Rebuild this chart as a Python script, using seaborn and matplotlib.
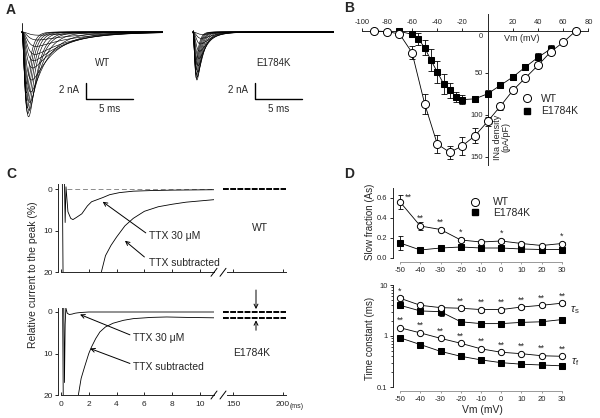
import numpy as np
import seaborn as sns
import matplotlib
matplotlib.use('Agg')
import matplotlib.pyplot as plt
from matplotlib.lines import Line2D

W, H, DPI = 600, 418, 100

# ---------------- panel A : current families (peak nA, activation / inactivation tau in ms)
wt_amp = [0.4, 1.0, 1.8, 2.8, 3.6, 4.5, 6.0, 7.5, 8.8, 9.8, 10.6, 10.2, 9.5, 8.6, 7.6, 6.5]
wt_tm = [0.55, 0.5, 0.45, 0.42, 0.38, 0.35, 0.34, 0.33, 0.33, 0.33, 0.33, 0.3, 0.28, 0.26, 0.24, 0.22]
wt_th = [5.0, 4.6, 4.2, 3.8, 3.4, 3.0, 2.4, 1.8, 1.3, 1.0, 0.85, 0.72, 0.63, 0.56, 0.5, 0.45]
mut_amp = [0.3, 0.8, 1.5, 2.4, 3.3, 4.2, 5.0, 5.6, 6.0, 5.8, 5.3, 4.7, 4.1, 3.5]
mut_tm = [0.4, 0.36, 0.33, 0.3, 0.28, 0.26, 0.25, 0.24, 0.23, 0.21, 0.2, 0.19, 0.18, 0.17]
mut_th = [1.6, 1.4, 1.2, 1.0, 0.85, 0.7, 0.6, 0.5, 0.42, 0.38, 0.35, 0.32, 0.3, 0.28]
artifact = {'WT': 1.1, 'E1784K': 0.3}

# ---------------- panel B : I-V relation
iv_vm_wt = [-90, -80, -70, -60, -50, -40, -30, -20, -10, 0, 10, 20, 30, 40, 50, 60, 70]
iv_wt = [0, 0.8, 3.5, 26, 87, 135, 145, 137, 125, 108, 90, 71, 56, 41, 25, 13.5, 0]
iv_wt_err = [0, 0, 1, 8, 12, 11, 7.6, 11, 9, 5, 4, 3, 3, 3, 3, 2, 2]
iv_vm_mut = [-70, -60, -55, -50, -45, -40, -35, -30, -25, -20, -10, 0, 10, 20, 30, 40, 50]
iv_mut = [0.5, 4, 9.6, 20, 35, 49, 63, 71, 78.5, 82, 81, 75, 65, 55, 43, 31.5, 21.5]
iv_mut_err = [1, 3, 6.6, 9, 13, 13, 12, 9, 6, 5, 3.4, 4.4, 3, 4, 4, 5, 4.6]

# ---------------- panel C : normalised traces (time ms, % of peak)
c_wt_ttx_t = [0.25, 0.3, 0.36, 0.5, 0.7, 0.86, 1.1, 1.5, 1.9, 2.2, 2.6, 3.0, 3.5, 4.2, 5.2, 6.5, 8.0, 9.5, 11.0]
c_wt_ttx = [-1.4, 8, -0.6, 5.4, 7.0, 7.3, 6.8, 5.9, 4.0, 3.0, 2.5, 2.0, 1.3, 0.8, 0.45, 0.3, 0.2, 0.15, 0.1]
c_wt_sub_t = [0.1, 0.17, 2.6, 2.9, 3.2, 3.6, 4.0, 4.6, 5.2, 6.0, 7.0, 8.0, 9.0, 10.0, 11.0]
c_wt_sub = [-1.4, 30, 30, 20, 16, 13.5, 11.5, 8.8, 7.0, 5.3, 4.2, 3.6, 3.1, 2.8, 2.5]
c_mut_ttx_t = [0.2, 0.25, 0.3, 0.35, 0.45, 0.6, 0.8, 1.0, 1.2, 1.5, 2.0, 3.0, 5.0, 8.0, 11.0]
c_mut_ttx = [-1, 17, 3, -1, 0.3, 0.6, 0.5, 0.3, 0.2, 0.1, 0, 0, 0, 0, 0]
c_mut_sub_t = [0.12, 0.18, 1.1, 1.25, 1.45, 1.7, 2.0, 2.2, 2.5, 2.8, 3.2, 3.75, 4.5, 5.2, 6.5, 7.6, 9.0, 11.0]
c_mut_sub = [-1, 30, 30, 20, 16, 13.2, 10, 8.4, 6.4, 4.8, 3.6, 2.7, 2.0, 1.6, 1.3, 1.2, 1.3, 1.4]
c_late_t = [140, 203]
c_wt_late = [0, 0]
c_mut_late_ttx = [0, 0]
c_mut_late_sub = [1.4, 1.4]

# ---------------- panel D : kinetics
vm_d = [-50, -40, -30, -20, -10, 0, 10, 20, 30]
sf_wt = [0.56, 0.32, 0.285, 0.18, 0.16, 0.17, 0.145, 0.125, 0.145]
sf_wt_err = [0.07, 0.04, 0.02, 0.02, 0.015, 0.02, 0.015, 0.01, 0.015]
sf_mut = [0.15, 0.08, 0.10, 0.11, 0.10, 0.10, 0.09, 0.085, 0.085]
sf_mut_err = [0.07, 0.015, 0.01, 0.01, 0.01, 0.01, 0.01, 0.01, 0.01]
ts_wt = [5.5, 4.0, 3.6, 3.5, 3.3, 3.3, 3.7, 4.0, 4.4]
ts_wt_err = [0.6, 0.3, 0.3, 0.3, 0.3, 0.3, 0.3, 0.3, 0.4]
ts_mut = [4.0, 3.1, 3.0, 1.9, 1.75, 1.75, 1.85, 1.9, 2.1]
ts_mut_err = [0.5, 0.3, 0.5, 0.2, 0.15, 0.15, 0.15, 0.15, 0.2]
tf_wt = [1.45, 1.15, 0.9, 0.72, 0.56, 0.48, 0.45, 0.41, 0.40]
tf_mut = [0.92, 0.68, 0.5, 0.4, 0.34, 0.3, 0.28, 0.27, 0.26]
sf_stars = ['**', '**', '**', '*', '', '*', '', '', '*']
ts_stars = ['*', '', '', '**', '**', '**', '**', '**', '**']
tf_stars = ['**'] * 9

sns.set_style('ticks')
plt.rcParams['font.family'] = ['Liberation Sans', 'DejaVu Sans']
plt.rcParams['mathtext.fontset'] = 'custom'
plt.rcParams['mathtext.rm'] = 'Liberation Sans'
plt.rcParams['mathtext.it'] = 'Liberation Sans:italic'
plt.rcParams['axes.unicode_minus'] = False
plt.rcParams['axes.linewidth'] = 0.7
plt.rcParams['xtick.major.width'] = 0.7
plt.rcParams['ytick.major.width'] = 0.7

fig = plt.figure(figsize=(W / DPI, H / DPI), dpi=DPI)


def add_ax(l, t, w, h):
    a = fig.add_axes([l / W, 1 - (t + h) / H, w / W, h / H])
    a.patch.set_visible(False)
    return a


def fig_line(x1, y1, x2, y2):
    fig.add_artist(Line2D([x1 / W, x2 / W], [1 - y1 / H, 1 - y2 / H],
                          transform=fig.transFigure, color='k', lw=0.7))


for letter, (x, y) in zip('ABCD', [(10.5, 10.5), (349, 8.5), (11, 173.5), (349, 173.5)]):
    fig.text(x / W, 1 - y / H, letter, fontsize=10, weight='bold', ha='center', va='center')

# ---------------- A
t_a = np.linspace(0, 15, 900)


def na_trace(amp, tm, th):
    y = (1 - np.exp(-t_a / tm)) ** 3 * np.exp(-t_a / th)
    return -amp * y / y.max()


for left, amps, tms, ths, name, bar_x in [(20, wt_amp, wt_tm, wt_th, 'WT', 6.8),
                                          (191, mut_amp, mut_tm, mut_th, 'E1784K', 6.6)]:
    ax = add_ax(left, 20, 143, 104)
    for amp, tm, th in zip(amps, tms, ths):
        ax.plot(t_a, na_trace(amp, tm, th), color='k', lw=0.45)
    ax.plot([0, 0], [0, artifact[name]], color='k', lw=0.6)
    ax.plot([bar_x, bar_x, bar_x + 5], [-6.4, -8.4, -8.4], color='k', lw=1.0)
    ax.text(bar_x - 0.7, -7.25, '2 nA', ha='right', va='center', fontsize=7)
    ax.text(bar_x + 2.5, -9.6, '5 ms', ha='center', va='center', fontsize=7)
    ax.text(8.6, -3.9, name, ha='center', va='center', fontsize=7)
    ax.set_xlim(-0.2, 15)
    ax.set_ylim(-11.5, 1.5)
    ax.axis('off')

# ---------------- B
axb = add_ax(359.2, 14.2, 231.7, 150.8)
axb.errorbar(iv_vm_mut, iv_mut, yerr=iv_mut_err, fmt='none', ecolor='k', elinewidth=0.6, capsize=2, capthick=0.6, zorder=2)
axb.errorbar(iv_vm_wt, iv_wt, yerr=iv_wt_err, fmt='none', ecolor='k', elinewidth=0.6, capsize=2, capthick=0.6, zorder=2)
sns.lineplot(x=iv_vm_mut, y=iv_mut, ax=axb, color='k', lw=0.6, marker='s', ms=5, mfc='k', mec='k', zorder=3)
sns.lineplot(x=iv_vm_wt, y=iv_wt, ax=axb, color='k', lw=0.6, marker='o', ms=5.8, mfc='white', mec='k', mew=0.7, zorder=4)
axb.set_xlim(-102, 82)
axb.set_ylim(160, -20)
axb.spines['right'].set_visible(False)
axb.spines['bottom'].set_visible(False)
axb.spines['top'].set_position(('data', 0))
axb.spines['top'].set_bounds(-100, 80)
axb.spines['left'].set_position(('data', 0))
axb.xaxis.set_ticks_position('top')
axb.set_xticks([-100, -80, -60, -40, -20, 20, 40, 60, 80])
axb.set_yticks([50, 100, 150])
axb.tick_params(axis='both', labelsize=5.4, length=2, pad=1.5)
axb.text(-4, 3, '0', ha='right', va='top', fontsize=5.4)
axb.text(27, 3.5, 'Vm (mV)', ha='center', va='top', fontsize=6.5)
axb.text(11.4, 126.5, 'INa density\n(pA/pF)', rotation=90, ha='center', va='center', fontsize=6.5, linespacing=0.95)
h_wt = Line2D([], [], ls='none', marker='o', ms=5.8, mfc='white', mec='k', mew=0.7)
h_mut = Line2D([], [], ls='none', marker='s', ms=5, mfc='k', mec='k')
axb.legend([h_wt, h_mut], ['WT', 'E1784K'], loc='center left', bbox_to_anchor=(0.705, 0.396),
           frameon=False, handlelength=0.8, handletextpad=1.0, labelspacing=0.22, borderpad=0,
           borderaxespad=0, fontsize=7.5)
axb.set_xlabel('')
axb.set_ylabel('')

# ---------------- C
def c_axes(top, h, ytop, bottom_labels):
    axl = add_ax(58.2, top, 155.7, h)
    axr = add_ax(222, top, 64, h)
    for a in (axl, axr):
        a.set_ylim(20, ytop)
        a.spines['top'].set_visible(False)
        a.spines['right'].set_visible(False)
        a.tick_params(axis='x', direction='in', length=2.5, labelsize=6, pad=4, labelbottom=bottom_labels)
        a.tick_params(axis='y', direction='out', length=2.5, labelsize=6, pad=1.5)
    axl.set_xlim(-0.2, 11.0)
    axr.set_xlim(139, 203)
    axr.spines['left'].set_visible(False)
    axr.tick_params(axis='y', left=False, labelleft=False)
    axl.spines['bottom'].set_bounds(0, 11)
    axr.spines['bottom'].set_bounds(144, 203)
    axl.set_xticks([0, 2, 4, 6, 8, 10])
    axr.set_xticks([150, 200])
    axl.set_yticks([0, 10, 20])
    yb = top + h
    fig_line(211, yb + 4, 217, yb - 4)
    fig_line(220, yb + 4, 226, yb - 4)
    return axl, axr


arrow = dict(arrowstyle='->', color='k', lw=0.7, shrinkA=0, shrinkB=0, mutation_scale=7)
late_style = dict(color='k', lw=1.4, ls=(0, (3, 0.7)))

c1l, c1r = c_axes(183.5, 88.8, -1.4, False)
c1l.plot([0.4, 11], [0, 0], color='0.55', lw=0.7, ls=(0, (5, 3)))
c1l.plot(c_wt_ttx_t, c_wt_ttx, color='k', lw=0.6)
c1l.plot(c_wt_sub_t, c_wt_sub, color='k', lw=0.6)
c1r.plot(c_late_t, c_wt_late, **late_style)
c1l.annotate('', xy=(3.0, 3.0), xytext=(6.1, 10.5), arrowprops=arrow)
c1l.annotate('', xy=(4.6, 12.4), xytext=(6.0, 16.3), arrowprops=arrow)
c1l.text(6.3, 11.2, 'TTX 30 \u03bcM', ha='left', va='center', fontsize=7.5)
c1l.text(6.3, 17.8, 'TTX subtracted', ha='left', va='center', fontsize=7.5)
c1r.text(177, 9.3, 'WT', ha='center', va='center', fontsize=7.5)

c2l, c2r = c_axes(307.85, 87.15, -1.0, True)
c2l.plot(c_mut_ttx_t, c_mut_ttx, color='k', lw=0.6)
c2l.plot(c_mut_sub_t, c_mut_sub, color='k', lw=0.6)
c2r.plot(c_late_t, c_mut_late_ttx, **late_style)
c2r.plot(c_late_t, c_mut_late_sub, **late_style)
c2l.annotate('', xy=(1.37, 0.6), xytext=(4.96, 5.5), arrowprops=arrow)
c2l.annotate('', xy=(2.1, 8.8), xytext=(4.96, 12.4), arrowprops=arrow)
c2l.text(5.2, 6.2, 'TTX 30 \u03bcM', ha='left', va='center', fontsize=7.5)
c2l.text(5.2, 13.2, 'TTX subtracted', ha='left', va='center', fontsize=7.5)
c2r.text(169, 9.9, 'E1784K', ha='center', va='center', fontsize=7.5)
c2r.annotate('', xy=(173, -0.7), xytext=(173, -5.3), arrowprops=arrow, annotation_clip=False)
c2r.annotate('', xy=(173, 2.0), xytext=(173, 4.4), arrowprops=arrow, annotation_clip=False)
fig.text(290 / W, 1 - 407 / H, '(ms)', fontsize=5, ha='left', va='center')
fig.text(33 / W, 1 - 275 / H, 'Relative current to the peak (%)', rotation=90,
         ha='center', va='center', fontsize=7.5)

# ---------------- D
def d_style(a):
    a.spines['top'].set_visible(False)
    a.spines['right'].set_visible(False)
    a.spines['bottom'].set_position(('outward', 3))
    a.spines['bottom'].set_bounds(-50, 30)
    a.spines['bottom'].set_color('0.6')
    a.set_xlim(-53.5, 32)
    a.set_xticks(vm_d)
    a.tick_params(axis='x', length=1.5, color='0.6', labelsize=5.5, pad=2)
    a.tick_params(axis='y', length=2.5, labelsize=5.5, pad=1.5)
    a.set_xlabel('')
    a.set_ylabel('')


def d_points(a, y, err, filled, z):
    if err is not None:
        a.errorbar(vm_d, y, yerr=err, fmt='none', ecolor='k', elinewidth=0.6, capsize=1.8, capthick=0.6, zorder=z - 1)
    if filled:
        sns.lineplot(x=vm_d, y=y, ax=a, color='k', lw=0.6, marker='s', ms=4, mfc='k', mec='k', zorder=z)
    else:
        sns.lineplot(x=vm_d, y=y, ax=a, color='k', lw=0.6, marker='o', ms=4.5, mfc='white', mec='k', mew=0.7, zorder=z)


axd1 = add_ax(393, 188, 173, 70)
d_points(axd1, sf_mut, sf_mut_err, True, 3)
d_points(axd1, sf_wt, sf_wt_err, False, 5)
axd1.set_ylim(0, 0.7)
axd1.set_yticks([0, 0.2, 0.4, 0.6])
axd1.set_yticklabels(['0.0', '0.2', '0.4', '0.6'])
axd1.spines['left'].set_bounds(0, 0.7)
d_style(axd1)
for i, (v, s) in enumerate(zip(sf_wt, sf_stars)):
    if not s:
        continue
    if i == 0:
        axd1.annotate(s, (vm_d[i], v), xytext=(3.5, 0), textcoords='offset points', ha='left', va='bottom', fontsize=6.5)
    else:
        axd1.annotate(s, (vm_d[i], v), xytext=(0, 2), textcoords='offset points', ha='center', va='bottom', fontsize=6.5)
axd1.legend([h_wt, h_mut], ['WT', 'E1784K'], loc='center left', bbox_to_anchor=(0.45, 0.72),
            frameon=False, handlelength=0.8, handletextpad=1.3, labelspacing=0.08, borderpad=0,
            borderaxespad=0, fontsize=7.5)
fig.text(370 / W, 1 - 222 / H, 'Slow fraction (As)', rotation=90, ha='center', va='center', fontsize=7)

axd2 = add_ax(393, 285, 173, 102)
axd2.set_yscale('log')
d_points(axd2, ts_mut, ts_mut_err, True, 3)
d_points(axd2, ts_wt, ts_wt_err, False, 5)
d_points(axd2, tf_mut, None, True, 3)
d_points(axd2, tf_wt, None, False, 5)
axd2.set_ylim(0.1, 10)
axd2.set_yticks([0.1, 1, 10])
axd2.set_yticklabels(['0.1', '1', '10'])
axd2.tick_params(axis='y', which='minor', length=1.2)
d_style(axd2)
for y, stars in [(ts_wt, ts_stars), (tf_wt, tf_stars)]:
    for x, v, s in zip(vm_d, y, stars):
        if s:
            axd2.annotate(s, (x, v), xytext=(0, 2), textcoords='offset points', ha='center', va='bottom', fontsize=6.5)
axd2.text(36.4, 3.2, r'$\tau_\mathrm{s}$', ha='center', va='center', fontsize=8)
axd2.text(36.4, 0.31, r'$\tau_\mathrm{f}$', ha='center', va='center', fontsize=8)
fig.text(370 / W, 1 - 338 / H, 'Time constant (ms)', rotation=90, ha='center', va='center', fontsize=7)
fig.text(482 / W, 1 - 410 / H, 'Vm (mV)', ha='center', va='center', fontsize=7.5)

plt.savefig('out.png', dpi=DPI)
